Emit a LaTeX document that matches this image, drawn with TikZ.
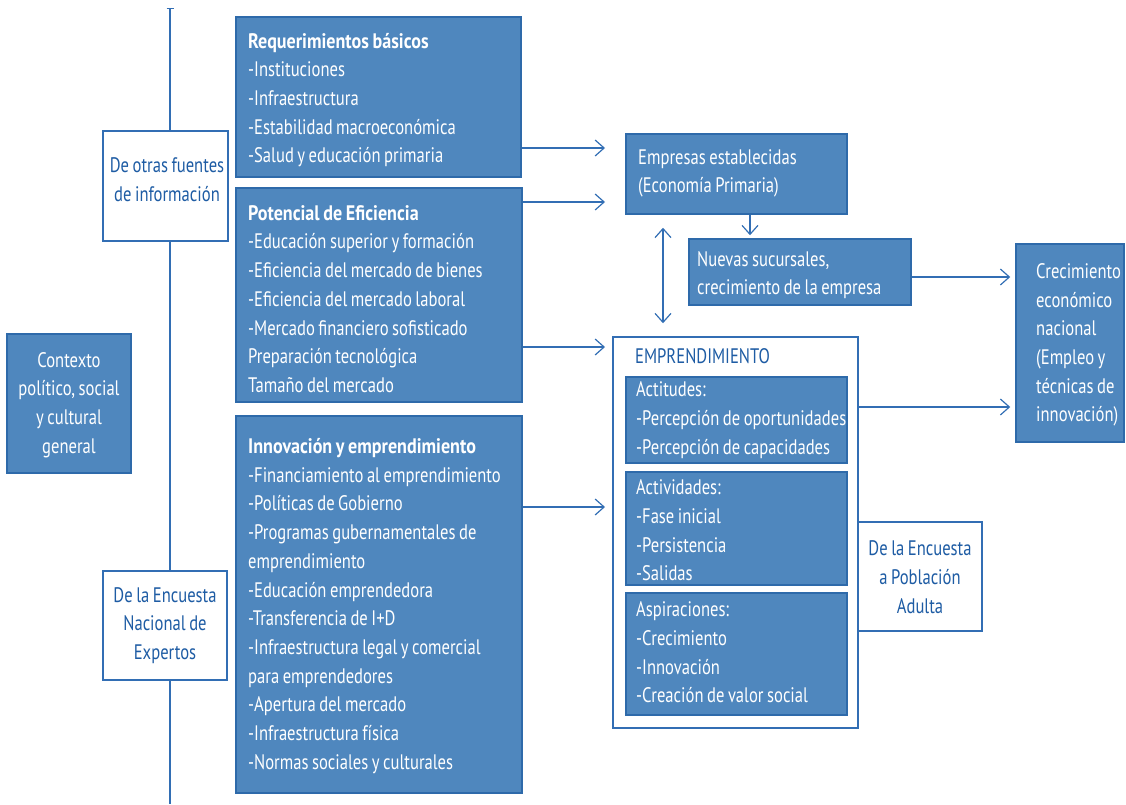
\documentclass[tikz,border=0pt]{standalone}
\usepackage{fontspec}
\setmainfont{PT Sans}[FakeStretch=0.79, WordSpace=0.8, BoldFeatures={FakeStretch=0.86}]
\usetikzlibrary{arrows.meta}
\definecolor{boxfill}{RGB}{79,135,190}
\definecolor{boxline}{RGB}{46,106,170}
\definecolor{bluetext}{RGB}{30,92,164}
\definecolor{connc}{RGB}{50,110,180}
\begin{document}
\begin{tikzpicture}[x=1pt,y=-1pt,
  base/.style={rectangle, inner sep=0pt, line width=1.5pt},
  bluebox/.style={base, draw=boxline, fill=boxfill},
  whitebox/.style={base, draw=connc, fill=white},
  txt/.style={inner sep=0pt, font=\fontsize{21}{28.7}\selectfont, anchor=west, align=left},
  wtxt/.style={txt, text=white},
  btxt/.style={txt, text=bluetext},
  ctxt/.style={inner sep=0pt, font=\fontsize{21}{28.7}\selectfont, align=center},
  conn/.style={draw=connc, line width=1.2pt},
  arr/.style={conn, -{Straight Barb[length=9pt,width=16pt,line width=1.2pt]}},
  darr/.style={conn, {Straight Barb[length=9pt,width=16pt,line width=1.2pt]}-{Straight Barb[length=9pt,width=16pt,line width=1.2pt]}},
]
\useasboundingbox (0,0) rectangle (1126,804);

% vertical source line
\coordinate (ltop) at (170,8);
\coordinate (lbot) at (170,804);

\node[whitebox, minimum width=125pt, minimum height=110pt] (otras) at (165.5,186) {};
\node[ctxt, text=bluetext] (otrastxt) at (167,179.5) {De otras fuentes\\de información};
\node[whitebox, minimum width=124pt, minimum height=109pt] (expertos) at (165,625.5) {};
\node[ctxt, text=bluetext] (expertostxt) at (165,625.5) {De la Encuesta\\Nacional de\\Expertos};

\draw[conn, {Bar[width=7pt,line width=1.2pt]}-] (ltop) -- (otras.north -| ltop);
\draw[conn] (otras.south -| ltop) -- (expertos.north -| ltop);
\draw[conn] (expertos.south -| ltop) -- (lbot);

\node[bluebox, minimum width=124pt, minimum height=139pt] (contexto) at (69,403.5) {};
\node[ctxt, text=white] (contextotxt) at (69,405) {Contexto\\político, social\\y cultural\\general};

\node[bluebox, minimum width=285pt, minimum height=160pt] (req) at (378.5,97) {};
\node[wtxt] (reqtxt) at (248,100)
 {\textbf{Requerimientos básicos}\\-Instituciones\\-Infraestructura\\-Estabilidad macroeconómica\\-Salud y educación primaria};
\node[bluebox, minimum width=286pt, minimum height=214pt] (pot) at (379,295) {};
\node[wtxt] (pottxt) at (248,299)
 {\textbf{Potencial de Eficiencia}\\-Educación superior y formación\\-Eficiencia del mercado de bienes\\-Eficiencia del mercado laboral\\-Mercado financiero sofisticado\\Preparación tecnológica\\Tamaño del mercado};
\node[bluebox, minimum width=286pt, minimum height=377pt] (inn) at (379,604.5) {};
\node[wtxt] (inntxt) at (248,606)
 {\textbf{Innovación y emprendimiento}\\-Financiamiento al emprendimiento\\-Políticas de Gobierno\\-Programas gubernamentales de\\emprendimiento\\-Educación emprendedora\\-Transferencia de I+D\\-Infraestructura legal y comercial\\para emprendedores\\-Apertura del mercado\\-Infraestructura física\\-Normas sociales y culturales};

\node[bluebox, minimum width=221pt, minimum height=80pt] (empresas) at (736.5,174) {};
\node[wtxt] (empresastxt) at (638,173.5) {Empresas establecidas\\(Economía Primaria)};
\node[bluebox, minimum width=222pt, minimum height=66pt] (nuevas) at (800,272) {};
\node[wtxt] (nuevastxt) at (697,275) {Nuevas sucursales,\\crecimiento de la empresa};
\node[bluebox, minimum width=108pt, minimum height=198pt] (crec) at (1070,343) {};
\node[wtxt] (crectxt) at (1036,345)
 {Crecimiento\\económico\\nacional\\(Empleo y\\técnicas de\\innovación)};

\node[whitebox, minimum width=245pt, minimum height=391pt] (empr) at (735.5,532.5) {};
\node[btxt] (emprlabel) at (635,356) {EMPRENDIMIENTO};
\node[bluebox, minimum width=221pt, minimum height=86pt] (actitudes) at (736.5,420) {};
\node[wtxt] (actitudestxt) at (636,420) {Actitudes:\\-Percepción de oportunidades\\-Percepción de capacidades};
\node[bluebox, minimum width=221pt, minimum height=113pt] (actividades) at (736.5,528.5) {};
\node[wtxt] (actividadestxt) at (636,530.5) {Actividades:\\-Fase inicial\\-Persistencia\\-Salidas};
\node[bluebox, minimum width=221pt, minimum height=122pt] (aspiraciones) at (736.5,654) {};
\node[wtxt] (aspiracionestxt) at (636,652.5) {Aspiraciones:\\-Crecimiento\\-Innovación\\-Creación de valor social};
\node[whitebox, minimum width=124pt, minimum height=109pt] (poblacion) at (920,576.5) {};
\node[ctxt, text=bluetext] (poblaciontxt) at (920,577) {De la Encuesta\\a Población\\Adulta};

% arrows from pillars
\coordinate (t1) at (605,148);
\coordinate (t2) at (605,202);
\coordinate (t3) at (605,347);
\coordinate (t4) at (605,507);
\draw[arr] (req.east |- t1) -- (t1);
\draw[arr] (pot.east |- t2) -- (t2);
\draw[arr] (pot.east |- t3) -- (t3);
\draw[arr] (inn.east |- t4) -- (t4);

% empresas -> nuevas
\coordinate (dn) at (750,0);
\draw[arr, shorten >=3pt] (empresas.south -| dn) -- (nuevas.north -| dn);
% empresas <-> emprendimiento
\coordinate (dx) at (663,0);
\draw[darr, shorten <=13pt, shorten >=13pt] (empresas.south -| dx) -- (empr.north -| dx);

% to crecimiento
\coordinate (r1) at (0,277);
\coordinate (r2) at (0,407);
\draw[arr, shorten >=5pt] (nuevas.east |- r1) -- (crec.west |- r1);
\draw[arr, shorten >=5pt] (empr.east |- r2) -- (crec.west |- r2);
\end{tikzpicture}
\end{document}
